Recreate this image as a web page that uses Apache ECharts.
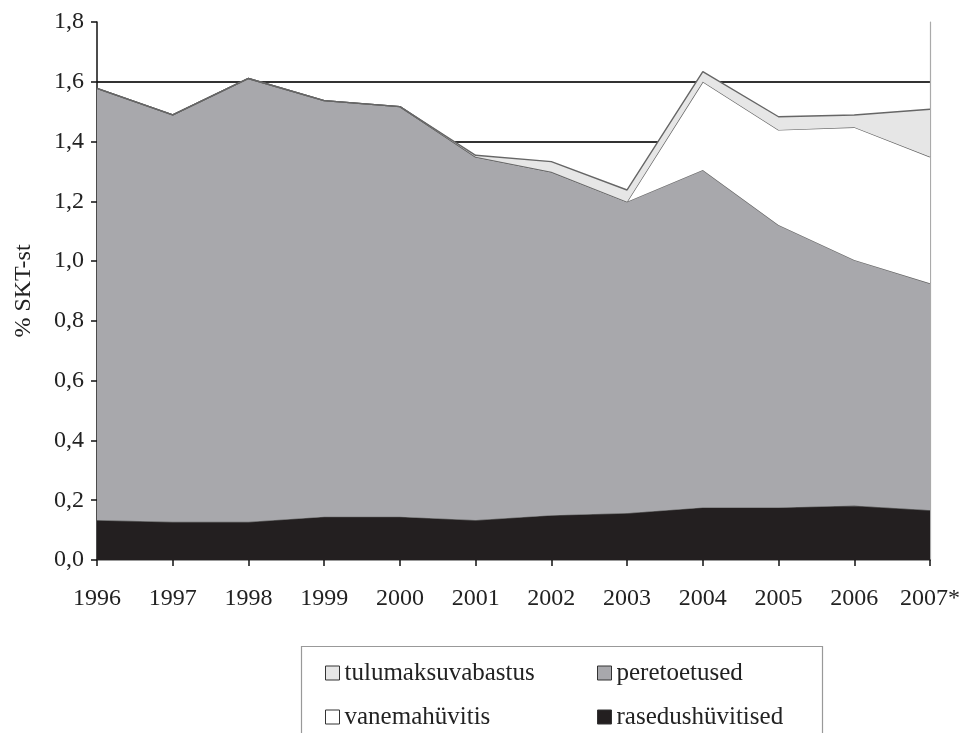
<!DOCTYPE html>
<html>
<head>
<meta charset="utf-8">
<script src="https://cdn.jsdelivr.net/npm/echarts@6/dist/echarts.min.js"></script>
<style>html,body{margin:0;padding:0;background:#fff}#c{width:977px;height:733px}</style>
</head>
<body>
<div id="c"></div>
<script>
var years = ['1996','1997','1998','1999','2000','2001','2002','2003','2004','2005','2006','2007*'];
var rasedushuvitised = [0.134,0.128,0.128,0.145,0.145,0.134,0.150,0.157,0.176,0.176,0.182,0.167];
var peretoetused = [1.444,1.361,1.483,1.392,1.372,1.215,1.149,1.042,1.129,0.945,0.822,0.759];
var vanemahuvitis = [0,0,0,0,0,0,0,0,0.295,0.318,0.444,0.423];
var tulumaksuvabastus = [0,0,0,0,0,0.005,0.034,0.039,0.034,0.044,0.041,0.159];

var FONT = 'Liberation Serif';
var chart = echarts.init(document.getElementById('c'));
function area(name, data, fill, z) {
  return {
    name: name, type: 'line', stack: 'total', data: data,
    showSymbol: false, symbol: 'none', z: z,
    color: fill,
    itemStyle: { color: fill },
    lineStyle: { color: '#666', width: 1.4 },
    areaStyle: { color: fill, opacity: 1 },
    emphasis: { disabled: true }
  };
}
var legendCommon = {
  orient: 'vertical', icon: 'rect', itemWidth: 14, itemHeight: 14, itemGap: 18,
  height: 200,
  textStyle: { fontFamily: FONT, fontSize: 25, color: '#222', lineHeight: 26, padding: [0,0,0,0] },
  itemStyle: { borderColor: '#333', borderWidth: 1 },
  selectedMode: false
};
chart.setOption({
  animation: false,
  backgroundColor: '#fff',
  grid: { left: 97, right: 47, top: 22, bottom: 173, containLabel: false },
  xAxis: [{
    type: 'category', data: years, boundaryGap: false, position: 'bottom',
    axisLine: { lineStyle: { color: '#111', width: 1.5 } },
    axisTick: { show: true, length: 6, inside: false, interval: 0, lineStyle: { color: '#111', width: 1.5 } },
    axisLabel: { fontFamily: FONT, fontSize: 24, color: '#222', margin: 27, interval: 0, hideOverlap: false },
    splitLine: { show: false }
  }, {
    type: 'category', data: years, boundaryGap: false, position: 'top',
    axisLine: { lineStyle: { color: '#999', width: 1.2 } },
    axisTick: { show: false }, axisLabel: { show: false }, splitLine: { show: false }
  }],
  yAxis: [{
    type: 'value', min: 0, max: 1.8, interval: 0.2,
    name: '% SKT-st', nameLocation: 'middle', nameGap: 61, nameRotate: 90,
    nameTextStyle: { fontFamily: FONT, fontSize: 24, color: '#222' },
    axisLine: { show: true, lineStyle: { color: '#111', width: 1.5 } },
    axisTick: { show: true, length: 6, lineStyle: { color: '#111', width: 1.5 } },
    axisLabel: { fontFamily: FONT, fontSize: 24, color: '#222', margin: 13,
      formatter: function (v) { return v.toFixed(1).replace('.', ','); } },
    splitLine: { show: true, showMaxLine: false, lineStyle: { color: '#333', width: 2 } }
  }, {
    type: 'value', min: 0, max: 1.8, interval: 0.2, position: 'right',
    axisLine: { show: true, lineStyle: { color: '#aaa', width: 1.2 } },
    axisTick: { show: false }, axisLabel: { show: false }, splitLine: { show: false }
  }],
  legend: [
    Object.assign({}, legendCommon, { left: 320, top: 655, data: ['tulumaksuvabastus', 'vanemahüvitis'] }),
    Object.assign({}, legendCommon, { left: 592, top: 655, data: ['peretoetused', 'rasedushüvitised'] })
  ],
  graphic: [{
    type: 'rect', shape: { x: 301.5, y: 646.5, width: 521, height: 110 },
    style: { fill: 'none', stroke: '#999', lineWidth: 1.2 }, z: -1
  }],
  series: [
    area('rasedushüvitised', rasedushuvitised, '#231f20', 2),
    area('peretoetused', peretoetused, '#a8a8ac', 3),
    area('vanemahüvitis', vanemahuvitis, '#ffffff', 4),
    area('tulumaksuvabastus', tulumaksuvabastus, '#e6e6e6', 5)
  ]
});
</script>
</body>
</html>
